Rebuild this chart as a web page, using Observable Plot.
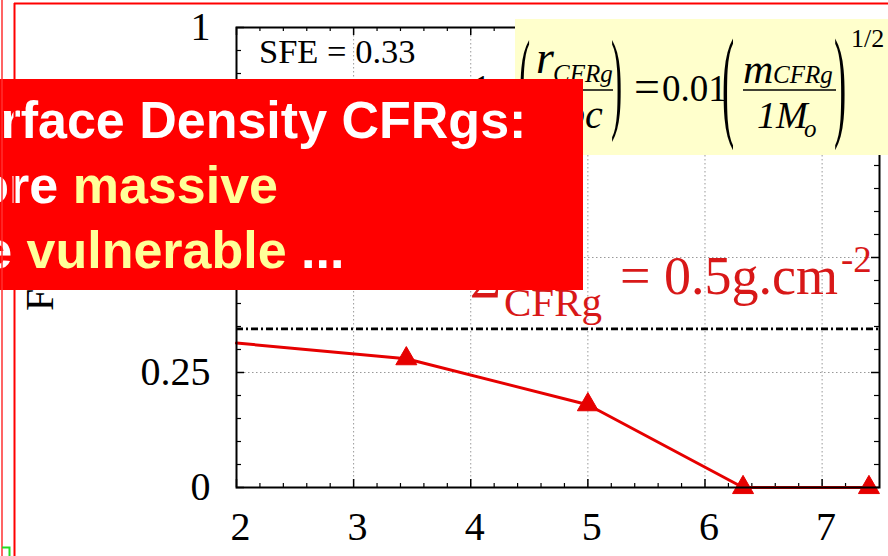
<!DOCTYPE html>
<html><head><meta charset="utf-8">
<script src="https://cdn.jsdelivr.net/npm/d3@7"></script>
<script src="https://cdn.jsdelivr.net/npm/@observablehq/plot@0.6"></script>
<style>
html,body{margin:0;padding:0;background:#fff;overflow:hidden}
#chart{position:relative;width:888px;height:556px}
</style></head><body><div id="chart"></div>
<script>
// ---- data ----
const massLog = [2, 3.45, 5, 6.325, 7.40];
const boundFraction = [0.314, 0.28, 0.18, 0, 0];
const hasMarker = [false, true, true, true, true];
const thresholdValue = [0.345];
const xTickValues = [2, 3, 4, 5, 6, 7];
const xTickLabels = ["2", "3", "4", "5", "6", "7"];
const yTickValues = [0, 0.25, 0.5, 0.75, 1];
const yTickLabels = ["0", "0.25", "0.5", "0.75", "1"];
const xGridValues = [3, 4, 5, 6, 7];
const yGridValues = [0.25, 0.5, 0.75];
const xMinorValues = [2.2,2.4,2.6,2.8,3.2,3.4,3.6,3.8,4.2,4.4,4.6,4.8,5.2,5.4,5.6,5.8,6.2,6.4,6.6,6.8,7.2,7.4];
const yMinorValues = [0.05,0.1,0.15,0.2,0.3,0.35,0.4,0.45,0.55,0.6,0.65,0.7,0.8,0.85,0.9,0.95];

const rows = massLog.map((x, i) => ({x, y: boundFraction[i], marker: hasMarker[i]}));

const W = 888, H = 556;
const mL = 236, mR = 9, mT = 27, mB = 69;
const FW = W - mL - mR, FH = H - mT - mB;
const SERIF = "Liberation Serif, Times New Roman, serif";
const SANS = "Liberation Sans, Arial, sans-serif";
const RED = "#e60000";
const TXTRED = "#d81818";

const plot = Plot.plot({
  width: W, height: H,
  marginLeft: mL, marginRight: mR, marginTop: mT, marginBottom: mB,
  style: {background: "white", overflow: "hidden"},
  x: {domain: [2, 7.49], axis: null},
  y: {domain: [0, 1], axis: null},
  marks: [
    Plot.ruleX(xGridValues, {x: d => d, stroke: "#999", strokeWidth: 1, strokeDasharray: "1.5,2.5"}),
    Plot.ruleY(yGridValues, {y: d => d, stroke: "#999", strokeWidth: 1, strokeDasharray: "1.5,2.5"}),
    // inward ticks
    Plot.ruleX(xTickValues, {x: d => d, insetTop: FH - 8, stroke: "black", strokeWidth: 1.5}),
    Plot.ruleX(xTickValues, {x: d => d, insetBottom: FH - 8, stroke: "black", strokeWidth: 1.5}),
    Plot.ruleX(xMinorValues, {x: d => d, insetTop: FH - 4, stroke: "black", strokeWidth: 1.2}),
    Plot.ruleX(xMinorValues, {x: d => d, insetBottom: FH - 4, stroke: "black", strokeWidth: 1.2}),
    Plot.ruleY(yTickValues, {y: d => d, insetRight: FW - 8, stroke: "black", strokeWidth: 1.5}),
    Plot.ruleY(yTickValues, {y: d => d, insetLeft: FW - 8, stroke: "black", strokeWidth: 1.5}),
    Plot.ruleY(yMinorValues, {y: d => d, insetRight: FW - 5, stroke: "black", strokeWidth: 1.2}),
    Plot.ruleY(yMinorValues, {y: d => d, insetLeft: FW - 5, stroke: "black", strokeWidth: 1.2}),
    // threshold dash-dot
    Plot.ruleY(thresholdValue, {y: d => d, stroke: "black", strokeWidth: 2.8, strokeDasharray: "7,3,2,3"}),
    // series
    Plot.line(rows, {x: "x", y: "y", stroke: RED, strokeWidth: 3}),
    Plot.dot(rows.filter(d => d.marker), {x: "x", y: "y", symbol: "triangle", r: 7.8, fill: RED, stroke: RED, strokeWidth: 1}),
    Plot.frame({stroke: "black", strokeWidth: 2}),
    // tick labels
    Plot.text(xTickValues, {x: d => d, text: (d, i) => xTickLabels[i], frameAnchor: "bottom", dy: 40, dx: 4,
      fontSize: 40, fontFamily: SERIF, fill: "black", lineAnchor: "middle"}),
    Plot.text(yTickValues, {y: d => d, text: (d, i) => yTickLabels[i], frameAnchor: "left", dx: -26,
      textAnchor: "end", fontSize: 40, fontFamily: SERIF, fill: "black", lineAnchor: "middle"})
  ]
});

const svg = d3.select(plot);
const ov = svg.append("g").attr("text-anchor", "start");

// annotation texts inside the frame
ov.append("text").attr("x", 259).attr("y", 63).attr("font-family", SERIF).attr("font-size", 34.5)
  .attr("fill", "black").text("SFE = 0.33");
ov.append("text").attr("x", 474).attr("y", 97).attr("font-family", SERIF).attr("font-size", 32)
  .attr("fill", "black").text("1");

// y-axis title (mostly hidden)
ov.append("text").attr("transform", "translate(53,311) rotate(-90)").attr("font-family", SERIF)
  .attr("font-size", 40).attr("fill", "black").text("F");

// red Sigma label
const sg = ov.append("g").attr("fill", TXTRED).attr("font-family", SERIF);
sg.append("text").attr("x", 470).attr("y", 298).attr("font-size", 53).text("Σ");
sg.append("text").attr("x", 504).attr("y", 316).attr("font-size", 41).text("CFRg");
sg.append("text").attr("x", 620).attr("y", 294).attr("font-size", 54).text("= 0.5g.cm");
sg.append("text").attr("x", 841).attr("y", 272).attr("font-size", 37).text("-2");

// yellow formula box
const yb = ov.append("g");
yb.append("rect").attr("x", 515).attr("y", 19).attr("width", 373).attr("height", 136).attr("fill", "#ffffcc");
const fg = yb.append("g").attr("fill", "black").attr("font-family", SERIF);
const paren = (ch, x, y, fs) => fg.append("text").attr("transform", `translate(${x},${y}) scale(0.3,1)`)
  .attr("font-size", fs).text(ch);
paren("(", 519, 118, 112);
fg.append("text").attr("x", 536).attr("y", 73).attr("font-size", 46).attr("font-style", "italic").text("r");
fg.append("text").attr("x", 553).attr("y", 82).attr("font-size", 25).attr("font-style", "italic").text("CFRg");
fg.append("line").attr("x1", 537).attr("x2", 613).attr("y1", 90).attr("y2", 90).attr("stroke", "black").attr("stroke-width", 1.5);
fg.append("text").attr("x", 545).attr("y", 128).attr("font-size", 40).attr("font-style", "italic").text("1pc");
paren(")", 611, 118, 112);
fg.append("text").attr("x", 634).attr("y", 102).attr("font-size", 46).text("=");
fg.append("text").attr("x", 662).attr("y", 101).attr("font-size", 37).text("0.01");
paren("(", 722, 124, 122);
fg.append("text").attr("x", 743).attr("y", 83).attr("font-size", 42).attr("font-style", "italic").text("m");
fg.append("text").attr("x", 773).attr("y", 83).attr("font-size", 25).attr("font-style", "italic").text("CFRg");
fg.append("line").attr("x1", 743).attr("x2", 836).attr("y1", 90).attr("y2", 90).attr("stroke", "black").attr("stroke-width", 1.5);
fg.append("text").attr("x", 757).attr("y", 128).attr("font-size", 38).attr("font-style", "italic").text("1M");
fg.append("text").attr("x", 804).attr("y", 137).attr("font-size", 25).attr("font-style", "italic").text("o");
paren(")", 834, 124, 122);
fg.append("text").attr("x", 851).attr("y", 47).attr("font-size", 26).text("1/2");

// red overlay box with text
const rb = ov.append("g");
rb.append("rect").attr("x", 0).attr("y", 79).attr("width", 583).attr("height", 211).attr("fill", "#ff0000");
const tg = rb.append("g").attr("font-family", SANS).attr("font-weight", "bold").attr("font-size", 52);
tg.append("text").attr("x", -66).attr("y", 138).attr("fill", "white").text("Surface Density CFRgs:");
const l2 = tg.append("text").attr("x", -66).attr("y", 203).attr("fill", "white");
l2.append("tspan").text("More ");
l2.append("tspan").attr("fill", "#ffff99").text("massive");
const l3 = tg.append("text").attr("x", -66).attr("y", 268).attr("fill", "white");
l3.append("tspan").text("are ");
l3.append("tspan").attr("fill", "#ffff99").text("vulnerable");
l3.append("tspan").text(" ...");

// slide borders
const bd = ov.append("g").attr("fill", "none");
bd.append("line").attr("x1", 2).attr("x2", 2).attr("y1", 0).attr("y2", H).attr("stroke", "#ff3030").attr("stroke-width", 1.5);
bd.append("line").attr("x1", 14.5).attr("x2", 14.5).attr("y1", 3).attr("y2", H).attr("stroke", "#ff0000").attr("stroke-width", 2);
bd.append("line").attr("x1", 14).attr("x2", W).attr("y1", 3.5).attr("y2", 3.5).attr("stroke", "#ff0000").attr("stroke-width", 2);
bd.append("path").attr("d", "M2,547.5H9.5V556").attr("stroke", "#22dd22").attr("stroke-width", 2);

document.getElementById("chart").appendChild(plot);
</script>
</body></html>
